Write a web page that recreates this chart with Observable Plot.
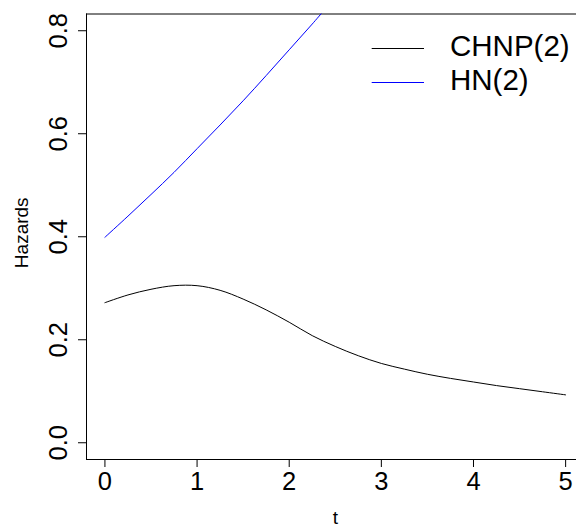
<!DOCTYPE html>
<html>
<head>
<meta charset="utf-8">
<script src="https://cdn.jsdelivr.net/npm/d3@7"></script>
<script src="https://cdn.jsdelivr.net/npm/@observablehq/plot@0.6"></script>
<style>
  html, body { margin: 0; padding: 0; background: #fff; }
  svg { display: block; }
</style>
</head>
<body>
<div id="chart"></div>
<script>
// Hazard curves
const tChnp = [0, 0.25, 0.5, 0.75, 1.0, 1.25, 1.5, 1.75, 2.0, 2.25, 2.5, 2.75, 3.0, 3.25, 3.5, 3.75, 4.0, 4.25, 4.5, 4.75, 5.0];
const chnp  = [0.272, 0.287, 0.298, 0.305, 0.305, 0.296, 0.279, 0.258, 0.234, 0.208, 0.187, 0.169, 0.154, 0.143, 0.133, 0.125, 0.118, 0.111, 0.105, 0.099, 0.093];
const tHn   = [0, 0.25, 0.5, 0.75, 1.0, 1.25, 1.5, 1.75, 2.0, 2.25, 2.5];
const hn    = [0.399, 0.440, 0.482, 0.525, 0.571, 0.617, 0.664, 0.713, 0.763, 0.813, 0.865];

const xTicks = [0, 1, 2, 3, 4, 5];
const yTicks = [0, 0.2, 0.4, 0.6, 0.8];
const seriesNames = ["CHNP(2)", "HN(2)"];
const seriesColors = ["#000000", "#0000ff"];

const chnpData = tChnp.map((t, i) => ({t, h: chnp[i]}));
const hnData = tHn.map((t, i) => ({t, h: hn[i]}));

const FONT = "'Liberation Sans', Arial, Helvetica, sans-serif";
const xDom = [-0.2, 5.118];
const yDom = [-0.0325, 0.8325];

const plot = Plot.plot({
  width: 576,
  height: 527,
  marginLeft: 86,
  marginRight: 0,
  marginTop: 13.5,
  marginBottom: 68,
  style: {fontFamily: FONT, background: "#fff", color: "#000"},
  x: {domain: xDom},
  y: {domain: yDom},
  marks: [
    Plot.axisX({ticks: xTicks, tickSize: 8, tickPadding: 4, fontSize: 25.5, label: null, tickFormat: d => String(d)}),
    Plot.axisY({ticks: yTicks, tickSize: 8, tickFormat: () => "", label: null}),
    Plot.text(yTicks, {y: d => d, text: d => d3.format(".1f")(d), frameAnchor: "left", dx: -19.5, rotate: -90, textAnchor: "middle", lineAnchor: "bottom", fontSize: 25.5, fill: "#000"}),
    Plot.ruleY([yDom[0], yDom[1]], {stroke: "#000", strokeWidth: 1}),
    Plot.ruleX([xDom[0]], {stroke: "#000", strokeWidth: 1}),
    Plot.line(hnData, {x: "t", y: "h", stroke: seriesColors[1], strokeWidth: 1, curve: "catmull-rom", clip: true}),
    Plot.line(chnpData, {x: "t", y: "h", stroke: seriesColors[0], strokeWidth: 1, curve: "catmull-rom", clip: true}),
    Plot.text(["t"], {frameAnchor: "bottom", dy: 64, dx: 4, lineAnchor: "bottom", fontSize: 19, fill: "#000"}),
    Plot.text(["Hazards"], {frameAnchor: "left", dx: -59, dy: -4, rotate: -90, textAnchor: "middle", lineAnchor: "bottom", fontSize: 19, fill: "#000"})
  ]
});

// Legend (top right, inside the plotting box)
const svg = d3.select(plot);
const lg = svg.append("g").attr("font-family", FONT).attr("font-size", 29.5).attr("text-anchor", "start");
seriesNames.forEach((name, i) => {
  const yy = 48 + i * 34;
  lg.append("line").attr("x1", 371.7).attr("x2", 424).attr("y1", yy + 0.5).attr("y2", yy + 0.5)
    .attr("stroke", seriesColors[i]).attr("stroke-width", 1);
  lg.append("text").attr("x", 450).attr("y", yy + 8).attr("fill", "#000").attr("text-anchor", "start").text(name);
});

document.getElementById("chart").appendChild(plot);
</script>
</body>
</html>
